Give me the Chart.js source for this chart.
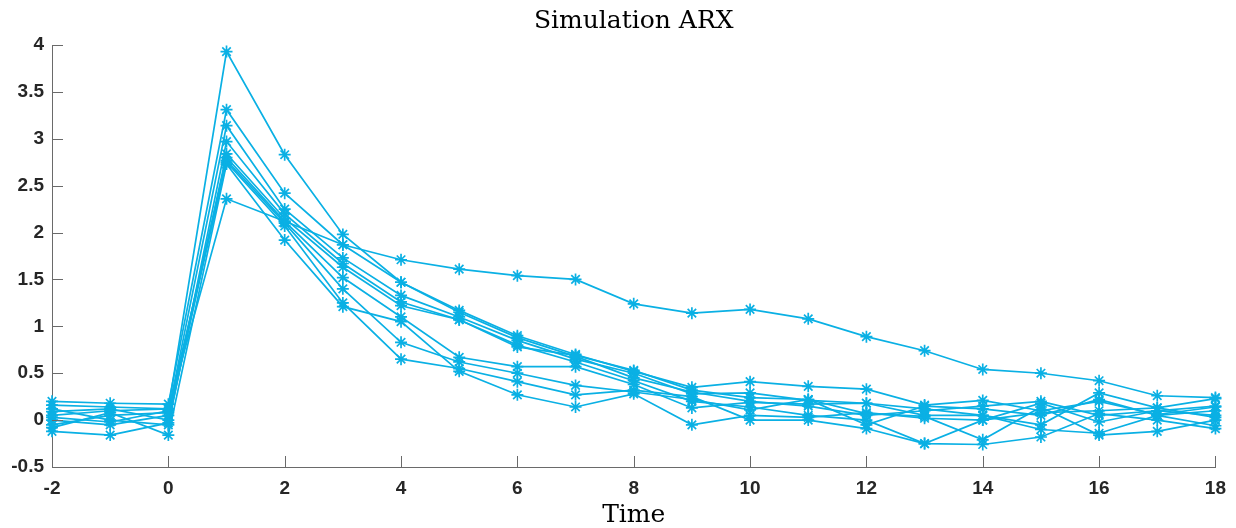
<!DOCTYPE html>
<html>
<head>
<meta charset="utf-8">
<script src="https://cdn.jsdelivr.net/npm/chart.js@4/dist/chart.umd.min.js"></script>
<style>
  html, body { margin: 0; padding: 0; background: #fff; }
  #wrap { width: 1236px; height: 528px; }
</style>
</head>
<body>
<div id="wrap"><canvas id="c"></canvas></div>
<script>
// time steps, -2 .. 18
var times = [-2, -1, 0, 1, 2, 3, 4, 5, 6, 7, 8, 9, 10, 11, 12, 13, 14, 15, 16, 17, 18];

// simulated responses, one array per run
var run1  = [0.05, 0.10, 0.12, 3.93, 2.83, 1.98, 1.47, 1.15, 0.88, 0.68, 0.45, 0.30, 0.20, 0.15, 0.05, 0.10, 0.15, 0.20, 0.05, 0.10, 0.15];
var run2  = [0.20, 0.18, 0.17, 3.31, 2.42, 1.87, 1.47, 1.17, 0.90, 0.70, 0.52, 0.35, 0.41, 0.36, 0.33, 0.16, 0.21, 0.10, 0.20, 0.06, 0.14];
var run3  = [-0.05, 0.05, 0.08, 3.14, 2.25, 1.73, 1.33, 1.10, 0.85, 0.65, 0.50, 0.28, 0.29, 0.21, 0.18, 0.05, 0.05, -0.05, 0.29, 0.13, 0.23];
var run4  = [0.12, 0.00, -0.05, 2.97, 2.20, 1.67, 1.26, 1.07, 0.80, 0.62, 0.42, 0.20, 0.14, 0.05, 0.00, -0.25, 0.00, 0.18, -0.02, 0.10, 0.05];
var run5  = [-0.12, -0.16, -0.03, 2.84, 2.15, 1.63, 1.22, 1.07, 0.78, 0.69, 0.53, 0.32, 0.24, 0.22, 0.07, 0.04, -0.21, 0.14, -0.16, -0.12, 0.00];
var run6  = [0.00, -0.05, 0.05, 2.80, 2.12, 1.52, 1.10, 0.67, 0.57, 0.57, 0.38, 0.13, 0.19, 0.17, 0.18, 0.12, 0.05, -0.10, -0.14, 0.05, -0.06];
var run7  = [0.09, 0.12, 0.00, 2.77, 2.10, 1.40, 0.83, 0.62, 0.50, 0.37, 0.30, 0.22, 0.11, 0.22, -0.05, 0.15, 0.12, 0.05, 0.22, 0.05, 0.10];
var run8  = [0.03, -0.02, 0.10, 2.75, 2.07, 1.25, 0.65, 0.55, 0.41, 0.27, 0.32, 0.25, 0.00, 0.00, -0.09, -0.25, -0.26, -0.18, 0.07, 0.00, -0.09];
var run9  = [-0.08, 0.08, -0.16, 2.73, 1.92, 1.21, 1.05, 0.52, 0.27, 0.14, 0.28, -0.05, 0.05, 0.03, 0.08, 0.02, 0.00, 0.08, 0.10, 0.13, 0.03];
var run10 = [0.16, 0.14, 0.12, 2.36, 2.12, 1.87, 1.71, 1.61, 1.54, 1.50, 1.24, 1.14, 1.18, 1.08, 0.89, 0.74, 0.54, 0.50, 0.42, 0.26, 0.24];

var runs = [run1, run2, run3, run4, run5, run6, run7, run8, run9, run10];

var yTicks = [-0.5, 0, 0.5, 1, 1.5, 2, 2.5, 3, 3.5, 4];
var xTicks = [-2, 0, 2, 4, 6, 8, 10, 12, 14, 16, 18];

var lineColor = 'rgb(10, 176, 228)';
var axisColor = '#6a6a6a';
var labelColor = '#262626';

// matlab style ticks pointing into the axes
var innerTicks = {
  id: 'innerTicks',
  afterDraw(chart) {
    let ctx = chart.ctx;
    let xs = chart.scales.x, ys = chart.scales.y;
    let area = chart.chartArea;
    ctx.save();
    ctx.strokeStyle = axisColor;
    ctx.lineWidth = 1;
    ctx.beginPath();
    xTicks.forEach(function(v){
      let px = Math.round(xs.getPixelForValue(v)) + 0.5;
      ctx.moveTo(px, area.bottom);
      ctx.lineTo(px, area.bottom - 11);
    });
    yTicks.forEach(function(v){
      let py = Math.round(ys.getPixelForValue(v)) + 0.5;
      ctx.moveTo(area.left, py);
      ctx.lineTo(area.left + 11, py);
    });
    ctx.stroke();
    ctx.restore();
  }
};

var datasets = runs.map(function(r, i){
  return {
    label: 'run ' + (i + 1),
    data: r.map(function(v, j){ return {x: times[j], y: v}; }),
    borderColor: lineColor,
    backgroundColor: lineColor,
    borderWidth: 1.7,
    pointStyle: 'star',
    pointRadius: 6,
    pointBorderWidth: 1.7,
    pointHoverRadius: 6,
    tension: 0,
    clip: false
  };
});

new Chart(document.getElementById('c'), {
  type: 'line',
  data: { datasets: datasets },
  plugins: [innerTicks],
  options: {
    responsive: true,
    maintainAspectRatio: false,
    animation: false,
    layout: { padding: { top: 0, right: 17, left: 0, bottom: 0 } },
    plugins: {
      legend: { display: false },
      tooltip: { enabled: false },
      title: {
        display: true,
        fullSize: false,
        text: 'Simulation ARX',
        color: '#000',
        font: { family: 'DejaVu Serif', size: 25, weight: 'normal', lineHeight: 1.2 },
        padding: { top: 6, bottom: 9 }
      }
    },
    scales: {
      x: {
        type: 'linear',
        min: -2,
        max: 18,
        afterFit: function(s){ s.height = 61; },
        afterBuildTicks: function(s){ s.ticks = xTicks.map(function(v){ return {value: v}; }); },
        grid: { display: false, drawTicks: false },
        border: { display: true, color: axisColor, width: 1 },
        ticks: {
          padding: 10,
          color: labelColor,
          font: { family: 'Liberation Sans', size: 19, weight: 'bold' },
          maxRotation: 0,
          callback: function(v){ return String(v); }
        },
        title: {
          display: true,
          text: 'Time',
          color: '#000',
          font: { family: 'DejaVu Serif', size: 25, weight: 'normal', lineHeight: 1 },
          padding: { top: 0, bottom: 0 }
        }
      },
      y: {
        min: -0.5,
        max: 4,
        afterFit: function(s){ s.width = 52; },
        afterBuildTicks: function(s){ s.ticks = yTicks.map(function(v){ return {value: v}; }); },
        grid: { display: false, drawTicks: false },
        border: { display: true, color: axisColor, width: 1 },
        ticks: {
          padding: 8,
          color: labelColor,
          font: { family: 'Liberation Sans', size: 19, weight: 'bold' },
          callback: function(v){ return String(v); }
        }
      }
    }
  }
});
</script>
</body>
</html>
